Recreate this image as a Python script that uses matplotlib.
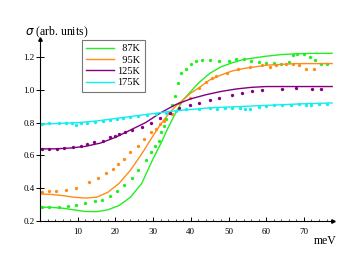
import numpy as np
import matplotlib.pyplot as plt

# measured points (meV, sigma)
x87 = [0.5, 2.5, 5, 7.5, 9.5, 12, 14.5, 16.5, 18.5, 20.5, 22.3, 24.5, 26, 28, 29.4, 30.5,
       31.5, 32.2, 33, 33.5, 34.3, 35, 35.7, 36.5, 37.5, 38.8, 40, 41.5, 43, 45, 47.5, 50,
       52, 54, 56, 58, 60, 62, 64, 66, 67, 68.3, 70, 71.5, 73, 74.5, 76]
y87 = [0.285, 0.285, 0.285, 0.29, 0.30, 0.31, 0.32, 0.33, 0.35, 0.38, 0.42, 0.46, 0.51, 0.57,
       0.62, 0.66, 0.69, 0.74, 0.78, 0.82, 0.86, 0.91, 0.96, 1.04, 1.10, 1.13, 1.16, 1.175,
       1.18, 1.18, 1.175, 1.175, 1.19, 1.185, 1.175, 1.17, 1.165, 1.165, 1.16, 1.17, 1.21,
       1.22, 1.22, 1.20, 1.18, 1.16, 1.155]
x95 = [0.5, 2.3, 4.3, 6.9, 9.5, 13, 15.3, 17.5, 19.4, 20.6, 22.3, 24, 26, 27.5, 29.4, 30.8,
       31.7, 33, 35, 37, 39.7, 42.3, 44, 45.5, 46.8, 49.7, 52.4, 55.6, 59, 61, 62.7, 65.3,
       67, 68.8, 70.6, 72.8]
y95 = [0.375, 0.38, 0.38, 0.39, 0.40, 0.435, 0.46, 0.49, 0.52, 0.55, 0.58, 0.62, 0.66, 0.70,
       0.74, 0.76, 0.79, 0.81, 0.85, 0.92, 0.95, 1.01, 1.05, 1.07, 1.085, 1.10, 1.13, 1.14,
       1.15, 1.14, 1.15, 1.16, 1.16, 1.15, 1.13, 1.13]
x125 = [0.5, 2.5, 4.5, 6.5, 8.8, 10.8, 12.6, 14.3, 16.7, 18.5, 19.8, 21, 22.5, 24.5, 27,
        29.5, 31.7, 34.4, 37, 39.7, 42.3, 45, 47.6, 51, 53.7, 56.3, 59, 64.3, 68, 72.2, 74.6]
y125 = [0.64, 0.64, 0.64, 0.645, 0.65, 0.66, 0.67, 0.68, 0.69, 0.71, 0.72, 0.73, 0.745,
        0.755, 0.775, 0.80, 0.83, 0.86, 0.89, 0.91, 0.92, 0.935, 0.95, 0.97, 0.98, 0.99,
        1.0, 1.005, 1.01, 1.005, 1.005]
x175 = [0.5, 2.5, 5, 7, 8.5, 9.5, 11, 12.5, 14.5, 16.7, 18.5, 20.5, 22, 24, 26, 28.5, 30.7,
        33.5, 36, 38.8, 42.3, 45, 47, 49, 51, 53, 54.5, 55.6, 58, 60, 62, 64.3, 66.5, 68.8,
        70.5, 72, 74, 76]
y175 = [0.79, 0.795, 0.795, 0.80, 0.795, 0.785, 0.795, 0.80, 0.805, 0.81, 0.815, 0.82, 0.83,
        0.835, 0.84, 0.845, 0.855, 0.86, 0.87, 0.885, 0.885, 0.89, 0.885, 0.89, 0.89, 0.89,
        0.88, 0.885, 0.895, 0.90, 0.905, 0.91, 0.905, 0.915, 0.91, 0.905, 0.915, 0.915]

# model curves
fx87 = [0, 3, 6, 9, 12, 15, 18, 21, 24, 27, 30, 32, 34, 36, 38, 40, 42, 45, 48, 51, 54, 57,
        60, 64, 68, 72, 77.5]
fy87 = [0.285, 0.283, 0.278, 0.268, 0.258, 0.257, 0.268, 0.295, 0.345, 0.43, 0.58, 0.67,
        0.77, 0.86, 0.94, 0.99, 1.04, 1.10, 1.14, 1.165, 1.185, 1.195, 1.205, 1.215, 1.22,
        1.222, 1.223]
fx95 = [0, 3, 6, 9, 12, 15, 18, 21, 24, 27, 30, 32, 34, 36, 38, 40, 42, 45, 48, 51, 54, 57,
        60, 64, 68, 72, 77.5]
fy95 = [0.365, 0.362, 0.355, 0.345, 0.34, 0.345, 0.375, 0.43, 0.51, 0.61, 0.72, 0.79, 0.85,
        0.90, 0.94, 0.98, 1.01, 1.06, 1.09, 1.115, 1.13, 1.14, 1.15, 1.155, 1.16, 1.16, 1.16]
fx125 = [0, 4, 8, 12, 16, 20, 24, 28, 32, 36, 40, 44, 48, 52, 56, 60, 66, 72, 77.5]
fy125 = [0.64, 0.64, 0.645, 0.655, 0.675, 0.71, 0.755, 0.80, 0.86, 0.91, 0.945, 0.97, 0.99,
         1.005, 1.015, 1.02, 1.02, 1.02, 1.02]
fx175 = [0, 5, 10, 15, 20, 25, 30, 35, 40, 45, 50, 55, 60, 65, 70, 77.5]
fy175 = [0.79, 0.795, 0.80, 0.81, 0.825, 0.84, 0.855, 0.87, 0.88, 0.89, 0.895, 0.90, 0.905,
         0.91, 0.915, 0.92]

labels = ['87K', '95K', '125K', '175K']
colors = ['#22ee22', '#ff8c1a', '#800080', '#11eeee']

plt.rcParams['font.family'] = ['Liberation Serif', 'DejaVu Serif']

fig = plt.figure(figsize=(3.59, 2.56), dpi=100)
ax = fig.add_axes([0.1114, 0.1367, 0.816, 0.711])

curves = [(fx87, fy87), (fx95, fy95), (fx125, fy125), (fx175, fy175)]
points = [(x87, y87), (x95, y95), (x125, y125), (x175, y175)]
width = max(len(l) for l in labels)
for (fx, fy), (px, py), c, lab in zip(curves, points, colors, labels):
    # pad with figure spaces so the labels line up on the right
    ax.plot(fx, fy, '-', color=c, lw=1.0, label='\u2007' * (width - len(lab)) + lab)
    ax.plot(px, py, 'o', color=c, ms=2.4, mew=0)

ax.set_xlim(0, 77.7)
ax.set_ylim(0.2, 1.31)
ax.spines['top'].set_visible(False)
ax.spines['right'].set_visible(False)
for s in ['left', 'bottom']:
    ax.spines[s].set_linewidth(0.8)
ax.plot(1, 0, '>', color='black', ms=2.5, transform=ax.transAxes, clip_on=False)
ax.plot(0, 1, '^', color='black', ms=2.5, transform=ax.transAxes, clip_on=False)

ax.set_xticks([10, 20, 30, 40, 50, 60, 70])
ax.set_xticks(np.arange(2, 78, 2), minor=True)
ax.set_yticks([0.2, 0.4, 0.6, 0.8, 1.0, 1.2])
ax.set_yticklabels(['0.2', '0.4', '0.6', '0.8', '1.0', '1.2'])
ax.tick_params(axis='x', direction='in', length=3, width=0.7, labelsize=6.5, pad=5)
ax.tick_params(axis='x', which='minor', direction='in', length=1.5, width=0.5)
ax.tick_params(axis='y', direction='inout', length=6, width=0.7, labelsize=6.5, pad=1)

fig.text(0.875, 0.045, 'meV', fontsize=8.5)
fig.text(0.07, 0.862, r'$\sigma$ (arb. units)', fontsize=8.5)

leg = ax.legend(loc='upper left', bbox_to_anchor=(0.143, 0.995), borderaxespad=0,
                fontsize=7.5, handlelength=2.7, labelspacing=0.2, borderpad=0.4,
                handletextpad=0.3, fancybox=False, edgecolor='#777777', framealpha=1)
leg.get_frame().set_linewidth(0.8)

fig.savefig('out.png', dpi=100)
